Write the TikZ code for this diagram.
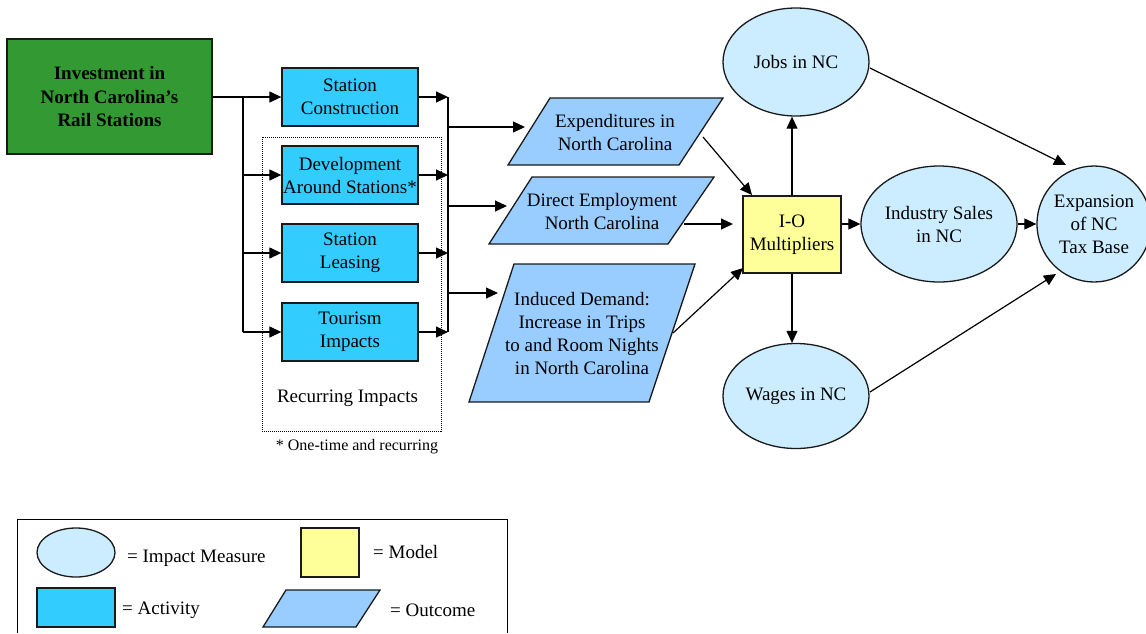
\documentclass[tikz,border=0pt]{standalone}
\usepackage{fontspec}
\setmainfont{Liberation Serif}
\usetikzlibrary{shapes.geometric,arrows.meta}
\definecolor{greenfill}{HTML}{339933}
\definecolor{actfill}{HTML}{33CCFF}
\definecolor{outfill}{HTML}{99CCFF}
\definecolor{impfill}{HTML}{CCECFF}
\definecolor{modfill}{HTML}{FFFF99}
\definecolor{edge}{HTML}{1A1A1A}
\begin{document}
\begin{tikzpicture}[x=1pt,y=-1pt,
  font=\fontsize{19}{23}\selectfont,
  box/.style={draw=edge, line width=1.3pt, inner sep=0pt, align=center},
  activity/.style={box, fill=actfill, minimum width=136pt, minimum height=58pt},
  model/.style={box, fill=modfill},
  impact/.style={ellipse, draw=edge, line width=1.3pt, fill=impfill, inner sep=0pt, align=center},
  outcome/.style={draw=edge, line width=1.3pt, fill=outfill, line join=miter},
  txt/.style={inner sep=0pt, align=center},
  conn/.style={line width=1.2pt, draw=black},
  arr/.style={conn, -{Triangle[length=12pt,width=11pt]}}
]
\useasboundingbox (0,0) rectangle (1146,633);

% recurring group (dotted)
\node[draw=black, densely dotted, line width=1pt, minimum width=179pt, minimum height=294pt, inner sep=0pt] (recur) at (351.5,284) {};
\node[txt] (recurT) at (347.5,398) {Recurring Impacts};
\node[txt, font=\fontsize{16}{19}\selectfont] (noteT) at (357,447) {* One-time and recurring};

% investment
\node[box, fill=greenfill, minimum width=205pt, minimum height=115pt, font=\fontsize{19}{23.5}\selectfont\bfseries] (green) at (109.5,96.5) {Investment in\\North Carolina's\\Rail Stations};

% activities
\node[activity] (sc) at (350,97) {Station\\Construction};
\node[activity] (dev) at (350,175) {Development\\Around Stations*};
\node[activity] (lease) at (350,253) {Station\\Leasing};
\node[activity] (tour) at (350,332) {Tourism\\Impacts};

% outcomes
\filldraw[outcome] (508,165) -- (550,98) -- (723,98) -- (679,165) -- cycle;
\node[txt] (exp) at (615,132) {Expenditures in\\North Carolina};
\filldraw[outcome] (489,244) -- (532,177) -- (714,177) -- (668,244) -- cycle;
\node[txt] (dir) at (602,211) {Direct Employment\\North Carolina};
\filldraw[outcome] (469,402) -- (514,264) -- (695,264) -- (649,402) -- cycle;
\node[txt] (ind) at (582,333) {Induced Demand:\\Increase in Trips\\to and Room Nights\\in North Carolina};

% model
\node[model, minimum width=98pt, minimum height=77pt] (io) at (792,234.5) {I-O\\Multipliers};

% impacts
\node[impact, minimum width=146pt, minimum height=108pt] (jobs) at (796,62) {Jobs in NC};
\node[impact, minimum width=146pt, minimum height=105pt] (wages) at (796,396) {Wages in NC};
\node[impact, minimum width=156pt, minimum height=116pt] (sales) at (939,224) {Industry Sales\\in NC};
\node[impact, minimum width=114pt, minimum height=116pt] (expn) at (1094,224) {Expansion\\of NC\\Tax Base};

% left bus
\coordinate (lbus) at (243,0);
\draw[arr] (green.east |- sc.west) -- (sc.west);
\draw[conn] (lbus |- sc.west) -- (lbus |- tour.west);
\draw[arr] (lbus |- dev.west) -- (dev.west);
\draw[arr] (lbus |- lease.west) -- (lease.west);
\draw[arr] (lbus |- tour.west) -- (tour.west);

% right bus
\coordinate (rbus) at (448,0);
\draw[arr] (sc.east) -- (rbus |- sc.east);
\draw[arr] (dev.east) -- (rbus |- dev.east);
\draw[arr] (lease.east) -- (rbus |- lease.east);
\draw[arr] (tour.east) -- (rbus |- tour.east);
\draw[conn] (rbus |- sc.east) -- (rbus |- tour.east);

\coordinate (expIn) at (525,127);
\coordinate (dirIn) at (507,206);
\coordinate (indIn) at (498,293);
\draw[arr] (rbus |- expIn) -- (expIn);
\draw[arr] (rbus |- dirIn) -- (dirIn);
\draw[arr] (rbus |- indIn) -- (indIn);

% outcomes to model
\coordinate (expOut) at (703,137);
\coordinate (ioA) at (752,195);
\coordinate (dirOut) at (684,224);
\coordinate (ioB) at (733,224);
\coordinate (indOut) at (673,333);
\coordinate (ioC) at (743,268);
\draw[arr] (expOut) -- (ioA);
\draw[arr] (dirOut) -- (ioB);
\draw[arr] (indOut) -- (ioC);

% model to impacts
\draw[arr] (io.north) -- (io.north |- jobs.south);
\draw[arr] (io.south) -- (io.south |- wages.north);
\draw[arr] (io.east |- sales.west) -- (sales.west);
\draw[arr] (sales.east) -- (expn.west);

\coordinate (jobsOut) at (870,68);
\coordinate (expnA) at (1066,165);
\coordinate (wagesOut) at (870,392);
\coordinate (expnB) at (1056,274);
\draw[arr] (jobsOut) -- (expnA);
\draw[arr] (wagesOut) -- (expnB);

% legend
\draw[line width=1pt] (17,633) -- (17,519) -- (507,519) -- (507,633);
\node[impact, minimum width=78pt, minimum height=49pt] (lgImp) at (76,552.5) {};
\node[txt, anchor=west] (lgImpT) at (127,558) {= Impact Measure};
\node[model, minimum width=58pt, minimum height=49pt] (lgMod) at (330,552.5) {};
\node[txt, anchor=west] (lgModT) at (373,552) {= Model};
\node[activity, minimum width=78pt, minimum height=39pt] (lgAct) at (76,607.5) {};
\node[txt, anchor=west] (lgActT) at (122,610) {= Activity};
\filldraw[outcome] (263,627) -- (286,590) -- (380,590) -- (356,627) -- cycle;
\node[txt, anchor=west] (lgOutT) at (390,610) {= Outcome};
\end{tikzpicture}
\end{document}
